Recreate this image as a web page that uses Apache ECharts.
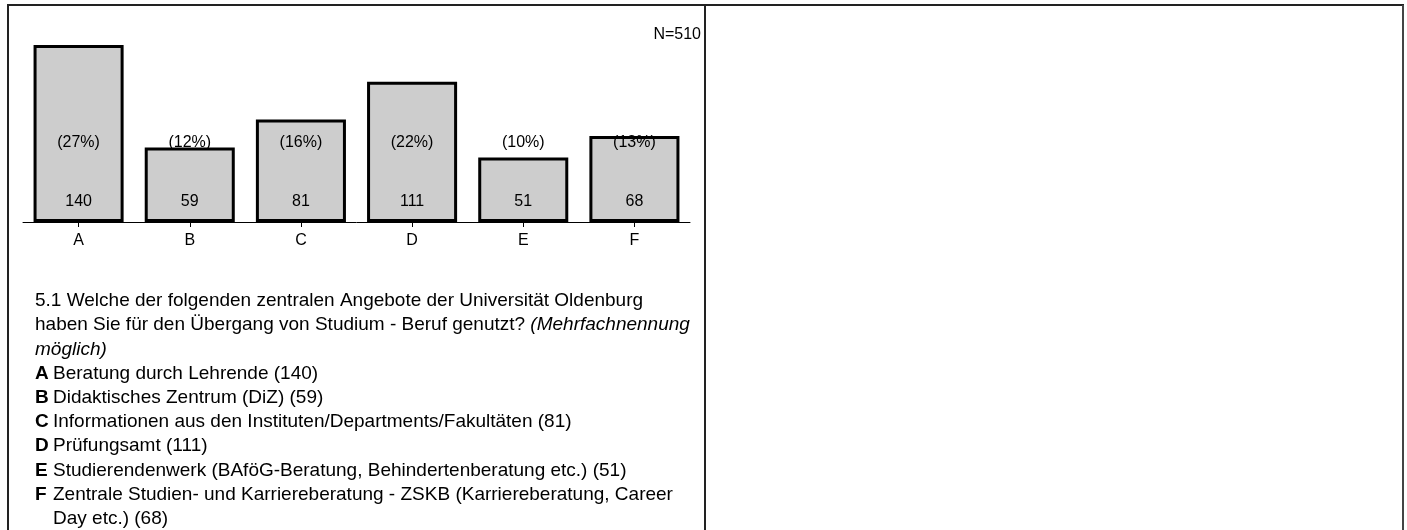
<!DOCTYPE html>
<html><head><meta charset="utf-8">
<script src="https://cdn.jsdelivr.net/npm/echarts@6/dist/echarts.min.js"></script>
<style>html,body{margin:0;padding:0;background:#fff}#c{width:1407px;height:530px}</style>
</head><body><div id="c"></div>
<script>
const categories = ['A', 'B', 'C', 'D', 'E', 'F'];
const counts = [140, 59, 81, 111, 51, 68];
const percents = [27, 12, 16, 22, 10, 13];
const sampleSize = 510;
const questionLines = [
  ['5.1 Welche der folgenden zentralen Angebote der Universität Oldenburg', ''],
  ['haben Sie für den Übergang von Studium - Beruf genutzt? ', '(Mehrfachnennung'],
  ['', 'möglich)']
];
const answerTexts = [
  'Beratung durch Lehrende (140)',
  'Didaktisches Zentrum (DiZ) (59)',
  'Informationen aus den Instituten/Departments/Fakultäten (81)',
  'Prüfungsamt (111)',
  'Studierendenwerk (BAföG-Beratung, Behindertenberatung etc.) (51)',
  'Zentrale Studien- und Karriereberatung - ZSKB (Karriereberatung, Career'
];
const answerContinuation = 'Day etc.) (68)';

const FONT = '"Liberation Sans", Arial, sans-serif';
const TXT = 19;
const chart = echarts.init(document.getElementById('c'), null, {renderer: 'canvas'});

const graphics = [];
const lineStyle = {stroke: '#222', lineWidth: 2};
graphics.push({type: 'line', shape: {x1: 7, y1: 5, x2: 1404, y2: 5}, style: lineStyle});
graphics.push({type: 'line', shape: {x1: 8, y1: 5, x2: 8, y2: 530}, style: lineStyle});
graphics.push({type: 'line', shape: {x1: 705, y1: 5, x2: 705, y2: 530}, style: lineStyle});
graphics.push({type: 'line', shape: {x1: 1403, y1: 5, x2: 1403, y2: 530}, style: {stroke: '#444', lineWidth: 2}});
graphics.push({type: 'text', x: 701, y: 35, style: {text: 'N=' + sampleSize, font: '16px ' + FONT, fill: '#000', align: 'right', verticalAlign: 'middle'}});

let y = 301;
const step = 24.2;
questionLines.forEach(function (l) {
  graphics.push({type: 'text', x: 35, y: y, style: {
    text: (l[0] ? '{n|' + l[0] + '}' : '') + (l[1] ? '{i|' + l[1] + '}' : ''),
    verticalAlign: 'middle',
    rich: {
      n: {font: TXT + 'px ' + FONT, fill: '#000'},
      i: {font: 'italic ' + TXT + 'px ' + FONT, fill: '#000'}
    }
  }});
  y += step;
});
answerTexts.forEach(function (t, i) {
  graphics.push({type: 'text', x: 35, y: y, style: {text: categories[i], font: 'bold ' + TXT + 'px ' + FONT, fill: '#000', verticalAlign: 'middle'}});
  graphics.push({type: 'text', x: 53, y: y, style: {text: t, font: TXT + 'px ' + FONT, fill: '#000', verticalAlign: 'middle'}});
  y += step;
});
graphics.push({type: 'text', x: 53, y: y, style: {text: answerContinuation, font: TXT + 'px ' + FONT, fill: '#000', verticalAlign: 'middle'}});

chart.setOption({
  animation: false,
  backgroundColor: '#fff',
  textStyle: {fontFamily: FONT},
  grid: {left: 23, width: 667, top: 45, height: 177},
  xAxis: {
    type: 'category',
    data: categories,
    axisLine: {lineStyle: {color: '#000', width: 1}},
    axisTick: {show: true, length: 5, alignWithLabel: true, lineStyle: {color: '#000'}},
    axisLabel: {color: '#000', fontSize: 16, margin: 11, fontFamily: FONT}
  },
  yAxis: {type: 'value', min: 0, max: 140, show: false, splitLine: {show: false}},
  series: [
    {
      type: 'bar',
      data: counts,
      barCategoryGap: '19%',
      itemStyle: {color: '#cdcdcd', borderColor: '#000', borderWidth: 3},
      label: {show: true, position: 'insideBottom', distance: 12, color: '#000', fontSize: 16, fontFamily: FONT}
    },
    {
      type: 'bar',
      data: counts,
      barGap: '-100%',
      barCategoryGap: '19%',
      silent: true,
      z: 5,
      itemStyle: {color: 'rgba(0,0,0,0)', borderWidth: 0},
      label: {show: true, position: 'insideBottom', distance: 71, color: '#000', fontSize: 16, fontFamily: FONT,
        formatter: function (p) { return '(' + percents[p.dataIndex] + '%)'; }}
    }
  ],
  graphic: graphics
});
</script></body></html>
